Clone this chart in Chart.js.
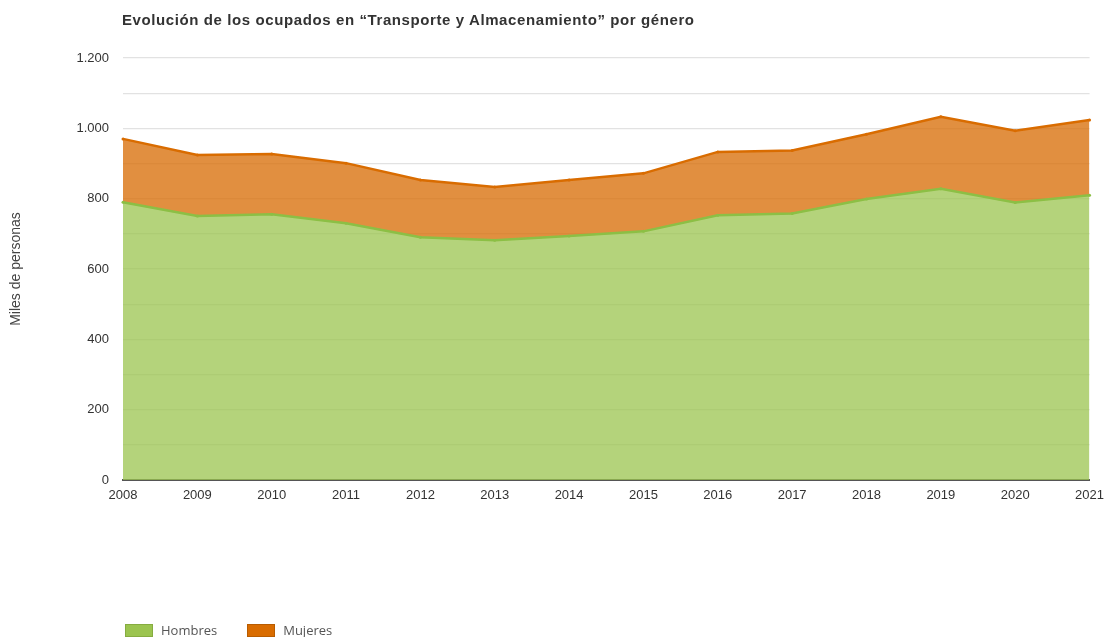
<!DOCTYPE html>
<html>
<head>
<meta charset="utf-8">
<script src="https://cdn.jsdelivr.net/npm/chart.js@4.4.1/dist/chart.umd.min.js"></script>
<style>
  html, body { margin: 0; padding: 0; background: #fff; overflow: hidden; }
  #wrap { position: relative; width: 1112px; height: 637px; }
  #titulo {
    position: absolute; left: 122px; top: 11px;
    font: bold 15px "Liberation Sans", Arial, sans-serif; color: #333;
    letter-spacing: 0.6px; white-space: nowrap;
  }
  #leyenda {
    position: absolute; left: 125px; top: 621px;
    font: 13px "Open Sans", sans-serif; color: #555;
    display: flex; align-items: center;
  }
  .item { display: flex; align-items: center; margin-right: 30px; }
  .caja { width: 26px; height: 11px; margin-right: 8px; }
</style>
</head>
<body>
<div id="wrap">
  <canvas id="grafico" width="1112" height="637"></canvas>
  <div id="titulo">Evolución de los ocupados en “Transporte y Almacenamiento” por género</div>
  <div id="leyenda"></div>
</div>
<script>
const years = ['2008', '2009', '2010', '2011', '2012', '2013', '2014', '2015', '2016', '2017', '2018', '2019', '2020', '2021'];
const hombres = [790, 751, 756, 730, 690, 682, 694, 707, 753, 758, 799, 828, 789, 810];
const mujeres = [180, 173, 171, 171, 163, 151, 159, 165, 180, 179, 184, 205, 204, 214];
// one label per 100 step, empty where no label is shown
const yTickLabels = ['0', '', '200', '', '400', '', '600', '', '800', '', '1.000', '', '1.200'];
const seriesNames = ['Hombres', 'Mujeres'];

const verde = '#9bc44f';
const naranja = '#d96c00';

// html legend
const leyenda = document.getElementById('leyenda');
[[seriesNames[0], verde, '#86ac40'], [seriesNames[1], naranja, '#b85c00']].forEach(([nombre, color, borde]) => {
  const it = document.createElement('div');
  it.className = 'item';
  it.innerHTML = '<div class="caja" style="background:' + color + ';border:1px solid ' + borde + '"></div><span>' + nombre + '</span>';
  leyenda.appendChild(it);
});

new Chart(document.getElementById('grafico'), {
  type: 'line',
  data: {
    labels: years,
    datasets: [{
      label: seriesNames[0],
      data: hombres,
      borderColor: '#8cbf45',
      backgroundColor: 'rgba(155,196,79,0.75)',
      borderWidth: 2.5,
      pointRadius: 1.5,
      pointBackgroundColor: '#8cbf45',
      pointBorderWidth: 0,
      fill: 'origin',
      tension: 0
    }, {
      label: seriesNames[1],
      data: mujeres,
      borderColor: naranja,
      backgroundColor: 'rgba(217,112,10,0.78)',
      borderWidth: 2.5,
      pointRadius: 1.5,
      pointBackgroundColor: naranja,
      pointBorderWidth: 0,
      fill: '-1',
      tension: 0
    }]
  },
  options: {
    responsive: false,
    animation: false,
    layout: { padding: { top: 58, right: 16, left: 0, bottom: 0 } },
    plugins: {
      legend: { display: false },
      tooltip: { enabled: false }
    },
    scales: {
      x: {
        z: 1,
        offset: false,
        grid: { display: false, drawTicks: false },
        border: { display: true, color: '#555', width: 2 },
        ticks: {
          padding: 8,
          maxRotation: 0,
          color: '#333',
          font: { family: 'Liberation Sans', size: 13 }
        },
        afterFit: (s) => { s.height = 157; }
      },
      y: {
        stacked: true,
        min: 0,
        max: 1200,
        grid: { color: '#e2e2e2', lineWidth: 1.2, drawTicks: false },
        border: { display: false },
        ticks: {
          stepSize: 100,
          padding: 14,
          autoSkip: false,
          color: '#333',
          font: { family: 'Liberation Sans', size: 13 },
          callback: (v) => yTickLabels[Math.round(v / 100)]
        },
        title: {
          display: true,
          text: 'Miles de personas',
          color: '#444',
          padding: { top: 8, bottom: 0 },
          font: { family: 'Liberation Sans', size: 14 }
        },
        afterFit: (s) => { s.width = 123; }
      }
    }
  }
});
</script>
</body>
</html>
